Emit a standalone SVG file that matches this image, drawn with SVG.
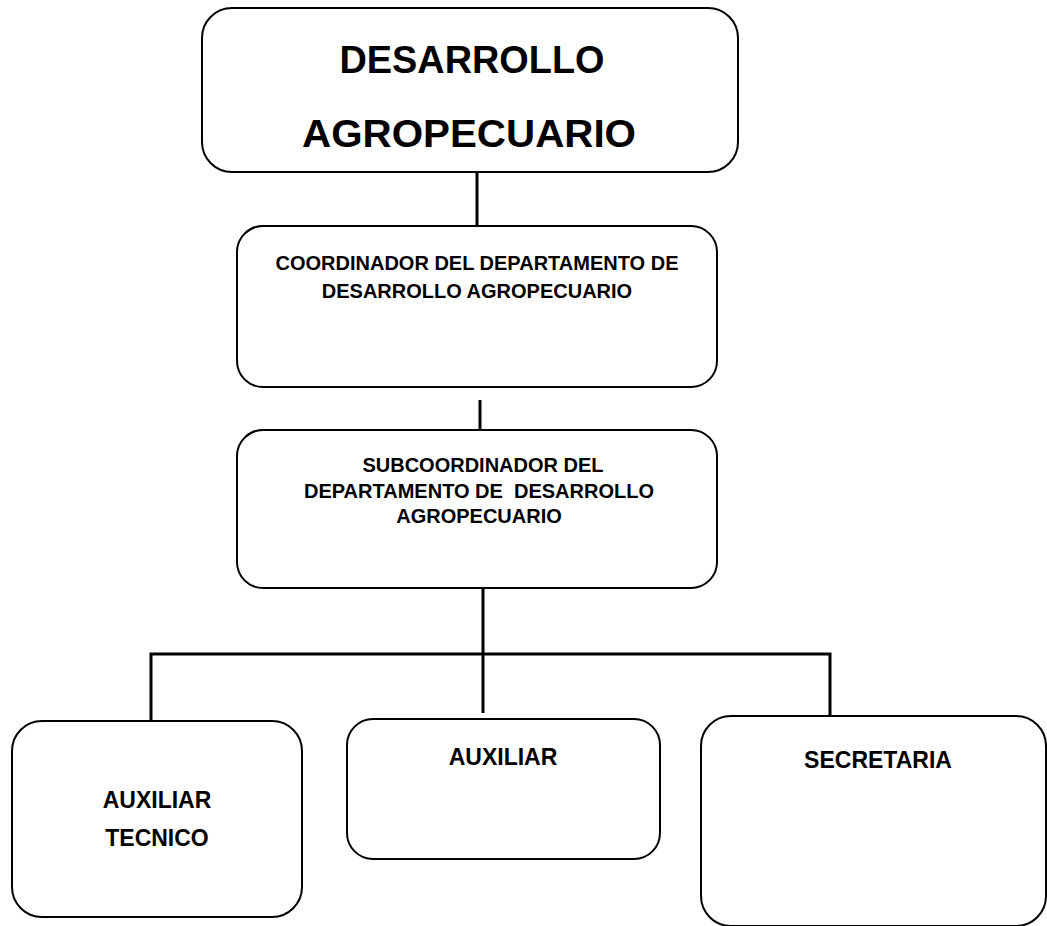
<svg xmlns="http://www.w3.org/2000/svg" width="1047" height="926" viewBox="0 0 1047 926">
<style>
.box{fill:#fff;stroke:#000;stroke-width:2}
.con{fill:none;stroke:#000;stroke-width:3}
text{font-family:"Liberation Sans",Arial,sans-serif;font-weight:bold;fill:#000;text-anchor:middle}
.t1{font-size:39px}
.t2{font-size:20px}
.t3{font-size:23px}
</style>
<rect width="1047" height="926" fill="#fff"/>
<g id="connectors">
<line class="con" x1="477" y1="172" x2="477" y2="226"/>
<line class="con" x1="480" y1="400" x2="480" y2="430"/>
<line class="con" x1="483" y1="588" x2="483" y2="713"/>
<polyline class="con" points="151,721 151,654 830,654 830,717"/>
</g>
<g id="n-top">
<rect class="box" x="202" y="8" width="536" height="164" rx="30"/>
<text class="t1" x="472" y="73" textLength="265" lengthAdjust="spacingAndGlyphs">DESARROLLO</text>
<text class="t1" x="469" y="147" textLength="334" lengthAdjust="spacingAndGlyphs">AGROPECUARIO</text>
</g>
<g id="n-coord">
<rect class="box" x="237" y="226" width="480" height="161" rx="26"/>
<text class="t2" x="477" y="270">COORDINADOR DEL DEPARTAMENTO DE</text>
<text class="t2" x="477" y="298">DESARROLLO AGROPECUARIO</text>
</g>
<g id="n-sub">
<rect class="box" x="237" y="430" width="480" height="158" rx="26"/>
<text class="t2" x="483" y="472">SUBCOORDINADOR DEL</text>
<text class="t2" x="479" y="498" xml:space="preserve">DEPARTAMENTO DE  DESARROLLO</text>
<text class="t2" x="479" y="523">AGROPECUARIO</text>
</g>
<g id="n-auxtec">
<rect class="box" x="12" y="721" width="290" height="196" rx="30"/>
<text class="t3" x="157" y="808">AUXILIAR</text>
<text class="t3" x="157" y="846">TECNICO</text>
</g>
<g id="n-aux">
<rect class="box" x="347" y="719" width="313" height="140" rx="26"/>
<text class="t3" x="503" y="765">AUXILIAR</text>
</g>
<g id="n-sec">
<rect class="box" x="701" y="716" width="345" height="210" rx="30"/>
<text class="t3" x="878" y="768">SECRETARIA</text>
</g>
</svg>
